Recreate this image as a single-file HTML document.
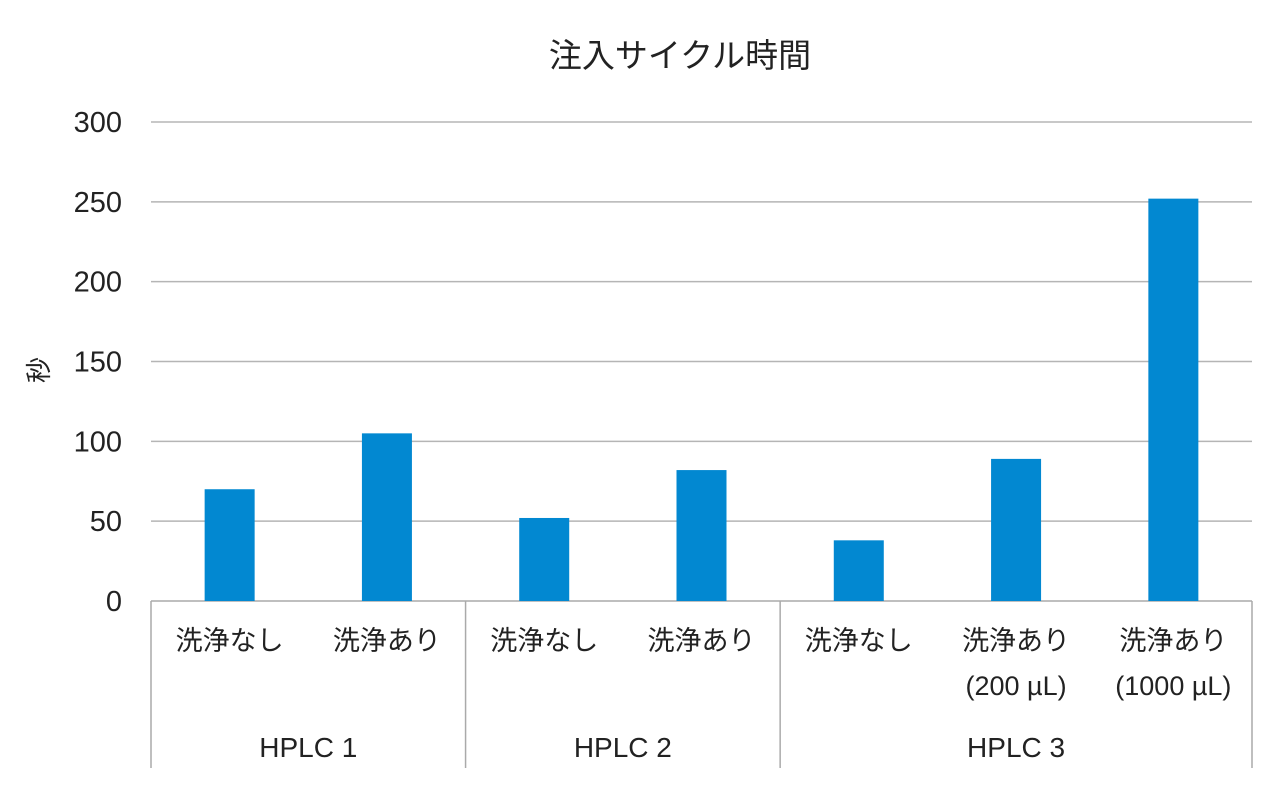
<!DOCTYPE html>
<html><head><meta charset="utf-8"><style>
body{margin:0;background:#fff}
svg text{font-family:"Liberation Sans","Noto Sans CJK JP",sans-serif;fill:#222}
</style></head><body>
<svg width="1280" height="804">
<text x="680" y="67" font-size="33" text-anchor="middle">注入サイクル時間</text>
<text transform="translate(48,370) rotate(-90)" font-size="26" text-anchor="middle">秒</text>
<g id="grid"></g><g id="bars"></g><g id="labels"></g>
</svg>
<script>
const categories=["洗浄なし","洗浄あり","洗浄なし","洗浄あり","洗浄なし","洗浄あり|(200 µL)","洗浄あり|(1000 µL)"];
const values=[70,105,52,82,38,89,252];
const groups=["HPLC 1","HPLC 2","HPLC 3"];
const groupSizes=[2,2,3];
const ticks=[0,50,100,150,200,250,300];
const NS="http://www.w3.org/2000/svg";
const x0=151,x1=1252,y0=601,yTop=122,yMax=300;
const slot=(x1-x0)/categories.length;
const y=v=>y0-(v/yMax)*(y0-yTop);
const xc=i=>x0+slot*(i+0.5);
function mk(t,a,p){const e=document.createElementNS(NS,t);for(const k in a)e.setAttribute(k,a[k]);p.appendChild(e);return e;}
const grid=document.getElementById('grid'),bars=document.getElementById('bars'),lab=document.getElementById('labels');
ticks.forEach(t=>{
 const l=mk('line',{x1:x0,x2:x1,y1:y(t),y2:y(t),stroke:t===0?'#aaa':'#b5b5b5','stroke-width':1.5},grid);
 
 
 const tx=mk('text',{x:122,y:y(t)+10,'font-size':29,'text-anchor':'end'},grid);tx.textContent=t;
 
 
});
values.forEach((v,i)=>{
 const r=mk('rect',{x:xc(i)-25,y:y(v),width:50,height:y0-y(v),fill:'#0288d1'},bars);
 
 
 categories[i].split('|').forEach((s,j)=>{
  const t=mk('text',{x:xc(i),y:650+j*45,'font-size':27,'text-anchor':'middle'},lab);t.textContent=s;
  
  
 });
});
let idx=0;
const sep=x=>{const l=mk('line',{x1:x,x2:x,y1:y0,y2:768,stroke:'#aaa','stroke-width':1.5},lab);
 
 };
sep(x0);
groups.forEach((g,k)=>{
 const s=x0+idx*slot;idx+=groupSizes[k];const e=x0+idx*slot;
 sep(e);
 const t=mk('text',{x:(s+e)/2,y:757,'font-size':28,'text-anchor':'middle'},lab);t.textContent=g;
 
 
});
</script>
</body></html>
